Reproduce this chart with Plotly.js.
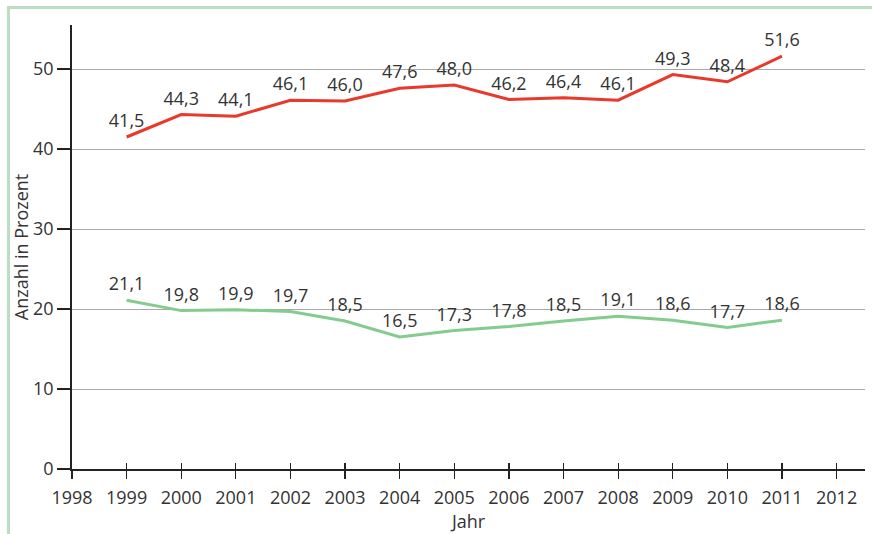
<!DOCTYPE html>
<html>
<head>
<meta charset="utf-8">
<script src="https://cdn.plot.ly/plotly-3.0.1.min.js"></script>
<style>
  html, body { margin: 0; padding: 0; background: #fff; }
  #wrap { position: relative; width: 872px; height: 534px; overflow: hidden; }
  #frame { position: absolute; left: 7px; top: 6px; width: 880px; height: 600px;
           border-left: 3px solid #b9dec1; border-top: 3px solid #b9dec1; }
  #chart { position: absolute; left: 0; top: 0; width: 872px; height: 534px; }
</style>
</head>
<body>
<div id="wrap">
  <div id="frame"></div>
  <div id="chart"></div>
</div>
<script>
const years = [1999, 2000, 2001, 2002, 2003, 2004, 2005, 2006, 2007, 2008, 2009, 2010, 2011];
const redValues = [41.5, 44.3, 44.1, 46.1, 46.0, 47.6, 48.0, 46.2, 46.4, 46.1, 49.3, 48.4, 51.6];
const greenValues = [21.1, 19.8, 19.9, 19.7, 18.5, 16.5, 17.3, 17.8, 18.5, 19.1, 18.6, 17.7, 18.6];
const xTicks = [1998, 1999, 2000, 2001, 2002, 2003, 2004, 2005, 2006, 2007, 2008, 2009, 2010, 2011, 2012];
const yTicks = [0, 10, 20, 30, 40, 50];

const fmt = v => v.toFixed(1).replace('.', ',');
const fontFam = '"Open Sans", "Noto Sans", sans-serif';
const txtColor = '#333333';
const fs = 18;

const traces = [
  {
    x: years, y: redValues, type: 'scatter', mode: 'lines+markers+text',
    line: {color: '#e8392c', width: 3},
    marker: {size: 7, color: 'rgba(0,0,0,0)'},
    text: redValues.map(fmt), textposition: 'top center',
    textfont: {family: fontFam, size: fs, color: txtColor},
    cliponaxis: false, hoverinfo: 'skip'
  },
  {
    x: years, y: greenValues, type: 'scatter', mode: 'lines+markers+text',
    line: {color: '#84cc8e', width: 3},
    marker: {size: 7, color: 'rgba(0,0,0,0)'},
    text: greenValues.map(fmt), textposition: 'top center',
    textfont: {family: fontFam, size: fs, color: txtColor},
    cliponaxis: false, hoverinfo: 'skip'
  },
  {
    x: [xTicks[0]], y: [0], xaxis: 'x2', type: 'scatter', mode: 'markers',
    marker: {opacity: 0}, hoverinfo: 'skip', showlegend: false
  }
];

const layout = {
  width: 872, height: 534,
  margin: {l: 72, r: 7, t: 25, b: 65},
  paper_bgcolor: 'rgba(0,0,0,0)',
  plot_bgcolor: 'rgba(0,0,0,0)',
  showlegend: false,
  separators: ',.',
  font: {family: fontFam, size: fs, color: txtColor},
  xaxis: {
    range: [1998, 2012.52],
    tickvals: xTicks, ticktext: xTicks.map(String),
    ticks: 'outside', ticklen: 8, tickwidth: 1.2, tickcolor: '#222',
    ticklabelstandoff: 4,
    showline: true, linecolor: '#222', linewidth: 1.8,
    showgrid: false, zeroline: false,
    tickfont: {family: fontFam, size: fs, color: txtColor},
    title: {text: 'Jahr', standoff: 6, font: {family: fontFam, size: fs, color: txtColor}},
    automargin: false
  },
  xaxis2: {
    overlaying: 'x', matches: 'x', anchor: 'y',
    range: [1998, 2012.52],
    tickvals: xTicks, showticklabels: false,
    ticks: 'inside', ticklen: 6, tickwidth: 1.2, tickcolor: '#222',
    showgrid: false, zeroline: false, showline: false
  },
  yaxis: {
    range: [0, 55.5],
    tickvals: yTicks, ticktext: yTicks.map(String),
    ticks: 'outside', ticklen: 13, tickwidth: 1.2, tickcolor: '#222',
    showline: true, linecolor: '#222', linewidth: 1.8,
    showgrid: true, gridcolor: '#a8a8a8', gridwidth: 1,
    zeroline: false,
    tickfont: {family: fontFam, size: fs, color: txtColor},
    title: {text: 'Anzahl in Prozent', standoff: 0, font: {family: fontFam, size: fs, color: txtColor}},
    automargin: false
  }
};

Plotly.newPlot('chart', traces, layout, {displayModeBar: false, staticPlot: true});
</script>
</body>
</html>
